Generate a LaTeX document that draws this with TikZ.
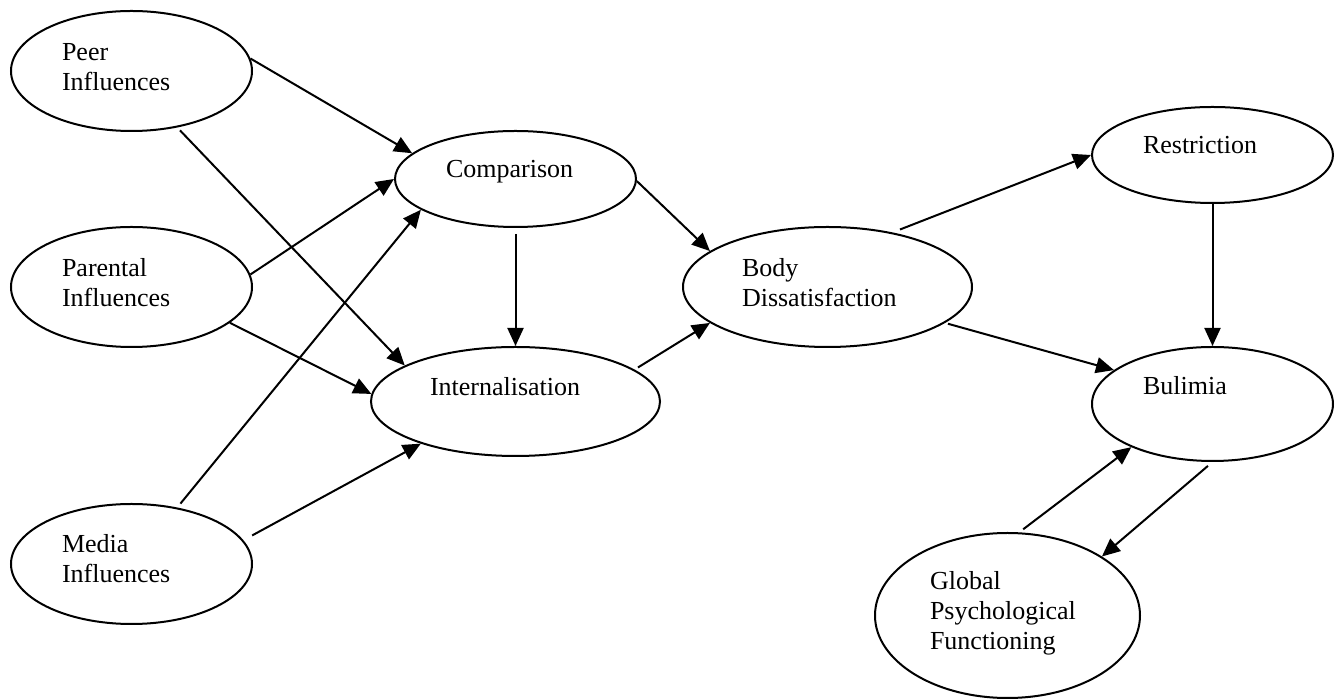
\documentclass[tikz,border=0pt]{standalone}
\usepackage{fontspec}
\setmainfont{Liberation Serif}
\usetikzlibrary{shapes.geometric, arrows.meta}

\begin{document}
\begin{tikzpicture}[x=0.5pt, y=-0.5pt, line width=1pt,
    >={Triangle[length=9pt, width=8pt]},
    oval/.style={ellipse, draw, inner sep=0pt},
    lbl/.style={anchor=base west, align=left, text width=90pt, inner sep=0pt,
                font=\fontsize{13}{15}\selectfont}]

    \useasboundingbox (0,0) rectangle (1341,699);

    % ovals
    \node [oval, minimum width=120.5pt, minimum height=60pt] (peer)  at (131.5, 71)  {};
    \node [oval, minimum width=120.5pt, minimum height=60pt] (par)   at (131.5, 287) {};
    \node [oval, minimum width=120.5pt, minimum height=60pt] (media) at (131.5, 564) {};
    \node [oval, minimum width=120.5pt, minimum height=48pt] (comp)  at (515.5, 179) {};
    \node [oval, minimum width=144.5pt, minimum height=54.5pt] (intl) at (515.5, 401.5) {};
    \node [oval, minimum width=144.5pt, minimum height=60pt] (body)  at (827.5, 287) {};
    \node [oval, minimum width=120.5pt, minimum height=48pt] (restr) at (1212.5, 155) {};
    \node [oval, minimum width=120.5pt, minimum height=57pt] (bul)   at (1212.5, 404) {};
    \node [oval, minimum width=132.5pt, minimum height=82.5pt] (glob) at (1007.5, 615.5) {};

    % labels
    \node [lbl] (peer-txt)  at (61, 61)   {Peer\\Influences};
    \node [lbl] (par-txt)   at (61, 277)  {Parental\\Influences};
    \node [lbl] (media-txt) at (61, 553)  {Media\\Influences};
    \node [lbl] (comp-txt)  at (445, 178) {Comparison};
    \node [lbl] (intl-txt)  at (429, 396) {Internalisation};
    \node [lbl] (body-txt)  at (741, 277) {Body\\Dissatisfaction};
    \node [lbl] (restr-txt) at (1142, 154) {Restriction};
    \node [lbl] (bul-txt)   at (1142, 395) {Bulimia};
    \node [lbl] (glob-txt)  at (929, 590) {Global\\Psychological\\Functioning};

    \path[->]
      (peer.6)   edge (comp.166)
      (peer.309) edge [shorten <=2pt] (intl.162)
      (par.6)    edge (comp.180)
      (par.340)  edge (intl.177)
      (media.51) edge [shorten <=2.5pt] (comp.198)
      (media.12) edge [shorten <=5pt] (intl.204)
      (comp.270) edge [shorten <=3pt] (intl.90)
      (comp.359) edge (body.163)
      (intl.15)  edge [shorten <=2pt] (body.197)
      (body.40)  edge [shorten <=4pt] (restr.180)
      (body.343) edge [shorten <=1.5pt] (bul.161)
      (restr.270) edge (bul.90)
      (glob.82)  edge [shorten <=2.5pt] (bul.208)
      (bul.270)  edge [shorten <=3pt] (glob.32);
\end{tikzpicture}
\end{document}
